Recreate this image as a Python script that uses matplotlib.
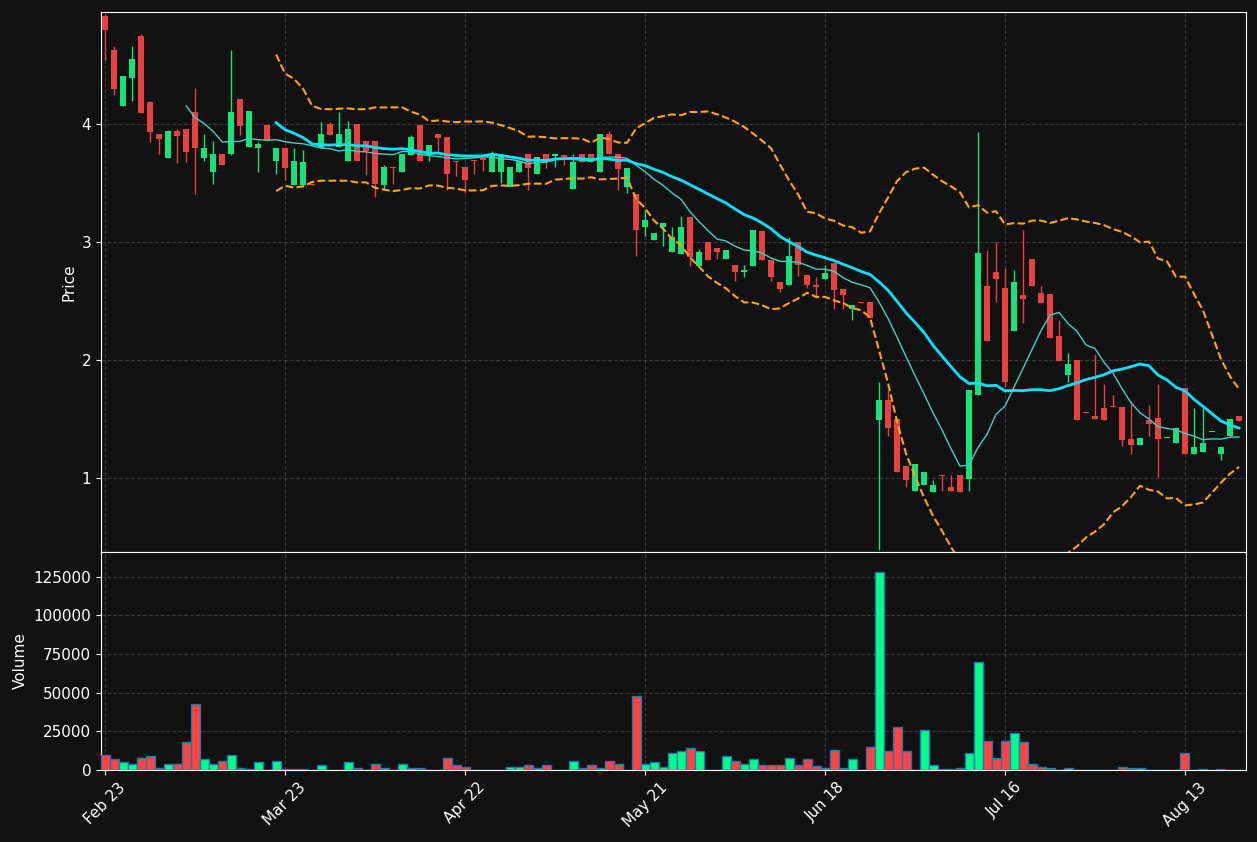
import numpy as np
import pandas as pd
import matplotlib
matplotlib.use("Agg")
import matplotlib.pyplot as plt

opens = [4.92,4.63,4.15,4.39,4.75,4.19,3.92,3.71,3.94,3.96,4.10,3.71,3.59,3.75,3.75,4.21,3.81,3.80,3.99,3.69,
         3.80,3.48,3.48,3.49,3.80,4.00,3.81,3.69,4.00,3.86,3.86,3.48,3.64,3.59,3.74,3.99,3.74,3.92,3.89,3.69,
         3.64,3.70,3.71,3.59,3.59,3.47,3.59,3.75,3.58,3.75,3.73,3.74,3.45,3.75,3.75,3.59,3.92,3.75,3.47,3.41,
         3.13,3.02,3.13,2.92,2.90,3.21,2.80,3.00,2.95,2.86,2.81,2.75,2.80,3.09,2.85,2.66,2.64,3.00,2.72,2.64,
         2.69,2.82,2.60,2.43,2.49,2.49,1.49,1.66,1.50,1.10,0.89,0.94,0.88,1.03,0.92,1.03,0.99,1.70,2.63,2.75,
         2.61,2.25,2.55,2.86,2.57,2.56,2.20,1.87,2.00,1.56,1.53,1.59,1.61,1.60,1.33,1.28,1.49,1.51,1.34,1.30,
         1.76,1.20,1.22,1.39,1.20,1.36,1.53]
closes = [4.80,4.30,4.41,4.55,4.09,3.93,3.87,3.94,3.90,3.76,3.80,3.80,3.75,3.65,4.10,3.98,4.11,3.83,3.86,3.80,
          3.63,3.69,3.68,3.48,3.92,3.91,3.92,3.96,3.69,3.77,3.49,3.64,3.63,3.75,3.89,3.69,3.82,3.88,3.58,3.68,
          3.53,3.69,3.70,3.75,3.74,3.64,3.69,3.63,3.72,3.68,3.75,3.72,3.68,3.68,3.68,3.92,3.75,3.62,3.63,3.10,
          3.19,3.08,3.16,3.04,3.13,2.87,2.92,2.85,2.92,2.93,2.75,2.76,3.10,2.85,2.70,2.60,2.88,2.81,2.64,2.62,
          2.74,2.59,2.55,2.47,2.48,2.36,1.66,1.42,1.05,0.98,1.12,1.05,0.94,1.02,0.89,0.88,1.75,2.91,2.16,2.69,
          1.81,2.66,2.52,2.63,2.48,2.19,1.99,1.97,1.49,1.55,1.50,1.49,1.60,1.32,1.28,1.34,1.46,1.33,1.34,1.42,
          1.20,1.26,1.30,1.39,1.26,1.50,1.48]
highs = [4.93,4.66,4.41,4.66,4.76,4.20,3.92,3.95,3.96,3.96,4.31,3.92,3.86,3.75,4.63,4.21,4.11,3.85,3.99,3.80,
         3.80,3.80,3.78,3.49,4.02,4.02,4.10,4.03,4.00,3.86,3.86,3.65,3.64,3.75,3.91,3.99,3.82,3.92,3.89,3.69,
         3.64,3.70,3.71,3.77,3.74,3.64,3.69,3.75,3.72,3.75,3.75,3.74,3.75,3.75,3.75,3.92,3.94,3.75,3.63,3.41,
         3.27,3.08,3.16,3.13,3.22,3.21,2.94,3.00,2.95,2.93,2.81,2.81,3.10,3.09,2.85,2.66,3.04,3.00,2.72,2.70,
         2.81,2.82,2.60,2.47,2.49,2.49,1.81,1.75,1.50,1.10,1.12,1.05,0.98,1.03,1.03,1.03,1.75,3.93,2.93,3.00,
         2.78,2.76,3.10,2.86,2.63,2.56,2.34,2.06,2.00,1.56,2.05,1.80,1.70,1.60,1.65,1.34,1.62,1.80,1.34,1.42,
         1.76,1.59,1.59,1.39,1.26,1.50,1.53]
lows = [4.54,4.25,4.15,4.20,4.09,3.85,3.75,3.71,3.67,3.68,3.41,3.69,3.49,3.65,3.74,3.91,3.81,3.59,3.86,3.58,
        3.53,3.48,3.48,3.48,3.80,3.91,3.81,3.69,3.69,3.57,3.38,3.45,3.49,3.59,3.74,3.69,3.69,3.76,3.44,3.56,
        3.42,3.58,3.60,3.59,3.50,3.47,3.59,3.44,3.58,3.63,3.64,3.65,3.45,3.68,3.68,3.59,3.75,3.44,3.42,2.88,
        3.05,3.02,2.97,2.92,2.90,2.80,2.80,2.85,2.86,2.86,2.67,2.70,2.80,2.85,2.67,2.58,2.64,2.71,2.61,2.53,
        2.69,2.43,2.43,2.34,2.48,2.36,0.39,1.36,1.05,0.92,0.89,0.94,0.88,0.89,0.89,0.88,0.89,1.70,2.16,2.49,
        1.77,2.25,2.31,2.63,2.48,2.19,1.99,1.81,1.49,1.55,1.50,1.49,1.60,1.27,1.20,1.28,1.36,1.01,1.34,1.30,
        1.20,1.20,1.22,1.39,1.15,1.36,1.48]
volumes = [10000,7000,5000,4000,7500,9000,1000,4000,4000,18000,43000,7000,4000,6000,10000,1500,500,5000,0,6000,
           500,500,500,0,3000,0,0,5000,1500,0,4000,1000,0,4000,1000,1000,0,0,8000,3000,
           2000,0,0,0,0,2000,2000,3500,1000,3000,0,0,6000,1000,3000,1000,6000,4000,0,48000,
           4000,5000,2000,11000,12000,14000,12000,0,0,9000,6000,4000,7000,3000,3000,3500,8000,3000,7000,2500,
           1000,13000,1000,7000,0,15000,128000,12000,28000,12000,0,26000,3000,500,500,1000,11000,70000,19000,8000,
           19000,24000,18000,4000,2000,1000,0,1000,0,0,0,0,0,2000,1000,1500,0,0,0,0,
           11000,0,500,0,500,0,0]
tick_labels = ["Feb 23", "Mar 23", "Apr 22", "May 21", "Jun 18", "Jul 16", "Aug 13"]
tick_pos = [0, 20, 40, 60, 80, 100, 120]

BG = "#111111"
UP = "#14e37c"
DN = "#e84142"
fig = plt.figure(figsize=(12.57, 8.42), dpi=100, facecolor=BG)
ax = fig.add_axes([0.0804, 0.3444, 0.911, 0.6413], facecolor=BG)
axv = fig.add_axes([0.0804, 0.0855, 0.911, 0.259], facecolor=BG, sharex=ax)

n = len(closes)
x = np.arange(n)
o = np.array(opens); c = np.array(closes); h = np.array(highs); l = np.array(lows)
up = c >= o
cols = np.where(up, UP, DN)
ax.vlines(x, l, h, colors=cols, linewidth=1, zorder=3)
ax.bar(x, np.maximum(np.abs(c - o), 0.008), bottom=np.minimum(o, c), width=0.6, color=cols, zorder=4)

s = pd.Series(c)
sma10 = s.rolling(10).mean()
sma20 = s.rolling(20).mean()
std20 = s.rolling(20).std(ddof=0)
ax.plot(x, sma10, color="#40d0c0", lw=1, zorder=5)
ax.plot(x, sma20, color="#00e5ff", lw=2, zorder=5)
ax.plot(x, sma20 + 2 * std20, color="orange", lw=1.5, ls="--", zorder=5)
ax.plot(x, sma20 - 2 * std20, color="orange", lw=1.5, ls="--", zorder=5)

vcols = np.where(up, "#00ff88", "#ff4444")
axv.bar(x, volumes, width=1.0, color=vcols, edgecolor="#1f77b4", linewidth=1, zorder=3)

ax.set_xlim(-0.45, 126.8)
ax.set_ylim(0.373, 4.95)
axv.set_ylim(0, 141000)
ax.set_yticks([1, 2, 3, 4])
axv.set_yticks([0, 25000, 50000, 75000, 100000, 125000])
axv.set_xticks(tick_pos)
axv.set_xticklabels(tick_labels, rotation=45, ha="center")
plt.setp(ax.get_xticklabels(), visible=False)
ax.tick_params(axis="x", length=0)
for a in (ax, axv):
    a.grid(True, color="#444444", ls="--", lw=0.8, alpha=0.8)
    a.set_axisbelow(True)
    a.tick_params(colors="white", labelsize=11)
    for sp in a.spines.values():
        sp.set_color("white")
ax.set_ylabel("Price", color="white", fontsize=11)
axv.set_ylabel("Volume", color="white", fontsize=11)
fig.savefig("out.png", dpi=100, facecolor=BG)
